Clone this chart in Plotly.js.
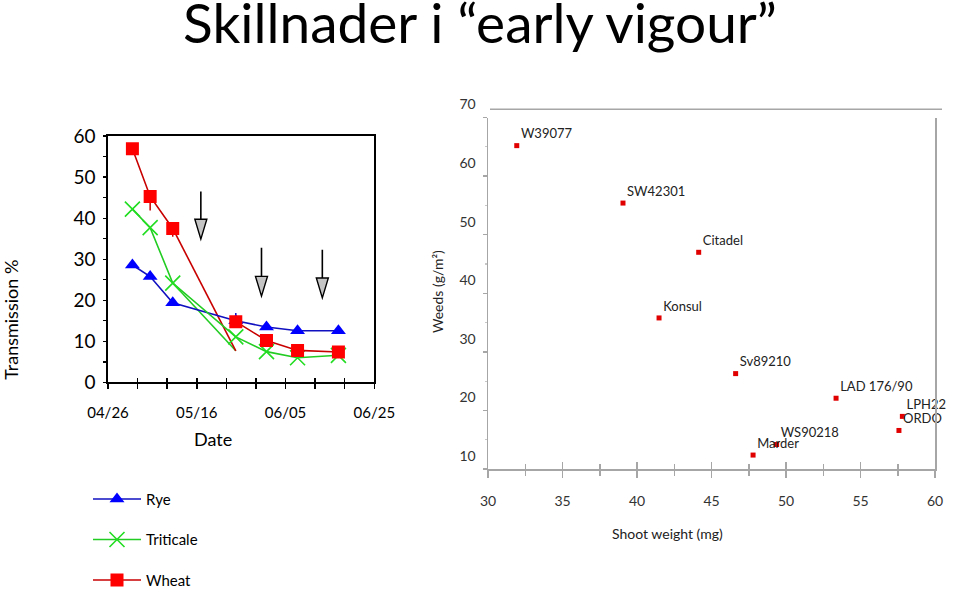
<!DOCTYPE html>
<html>
<head>
<meta charset="utf-8">
<script src="https://cdn.plot.ly/plotly-3.0.1.min.js"></script>
<style>html,body{margin:0;padding:0;background:#fff;}#chart{width:960px;height:597px;}</style>
</head>
<body>
<div id="chart"></div>
<script>
// ---------- Left chart: transmission over time ----------
const dates = ['2024-05-01 12:00','2024-05-05 12:00','2024-05-10 14:00','2024-05-24 19:00','2024-05-31 17:00','2024-06-07 17:00','2024-06-16 22:00'];
const rye       = [28.6, 25.8, 19.4, 15.0, 13.5, 12.6, 12.6];
const triticale = [42.2, 37.7, 24.2, 11.1, 7.5, 6.0, 6.6];
const wheat     = [56.9, 45.3, 37.5, 14.8, 10.2, 7.8, 7.4];
// stray line segments drawn in the original: from the 3rd date down to this value at the 4th date
const dropValue = 7.7;
// short error stubs visible in the original
const wheatErrMinus = [0, 3.4, 2.0, 0, 0, 0, 0];
const ryeErrPlus    = [0, 0, 0, 1.9, 0, 0, 0];
const xTickVals = ['2024-04-26','2024-05-16','2024-06-05','2024-06-25'];
const xTickText = ['04/26','05/16','06/05','06/25'];
// arrows (annotations) : date, top value, tip value
const arrowDates = ['2024-05-16 22:00','2024-05-30 14:00','2024-06-13 07:00'];
const arrowTop   = [46.5, 32.8, 32.3];
const arrowTip   = [34.9, 21.0, 20.6];

// ---------- Right chart: weeds vs shoot weight ----------
const cultivars   = ['W39077','SW42301','Citadel','Konsul','Sv89210','LAD 176/90','LPH22','ORDO','WS90218','Marder'];
const shootWeight = [31.93, 39.06, 44.14, 41.48, 46.62, 53.36, 57.81, 57.58, 49.37, 47.79];
const weeds       = [65.2, 55.4, 47.0, 35.8, 26.3, 22.1, 19.0, 16.6, 14.2, 12.4];

const W = 960, H = 597;
const px = x => x / W;
const py = y => 1 - y / H;
const FONT = 'Lato, "Open Sans", sans-serif';

const RED_L = '#c80000', RED_M = '#ff0000';
const BLUE_L = '#1010c0', BLUE_M = '#0000ff';
const GRN_L = '#22cc22', GRN_M = '#22dd22';

// wheat: gap between 3rd and 4th point (line replaced by stray drop)
const wx = dates.slice(0,3).concat([null]).concat(dates.slice(3));
const wy = wheat.slice(0,3).concat([null]).concat(wheat.slice(3));
const we = wheatErrMinus.slice(0,3).concat([0]).concat(wheatErrMinus.slice(3));

const traces = [
  {x:[dates[2], dates[3]], y:[triticale[2], dropValue], mode:'lines', line:{color:GRN_L, width:1.6}, showlegend:false, hoverinfo:'skip', xaxis:'x', yaxis:'y'},
  {x:[dates[2], dates[3]], y:[wheat[2], dropValue], mode:'lines', line:{color:RED_L, width:1.6}, showlegend:false, hoverinfo:'skip', xaxis:'x', yaxis:'y'},
  {name:'Rye', legendgroup:'r', x:dates, y:rye, mode:'lines+markers', xaxis:'x', yaxis:'y',
   line:{color:BLUE_L, width:1.6}, marker:{symbol:'triangle-up', size:13, color:BLUE_M},
   error_y:{type:'data', symmetric:false, array:ryeErrPlus, arrayminus:rye.map(()=>0), width:0, thickness:1.5, color:BLUE_L}},
  {name:'Triticale', legendgroup:'t', x:dates, y:triticale, mode:'lines+markers', xaxis:'x', yaxis:'y',
   line:{color:GRN_L, width:1.6}, marker:{symbol:'x-thin', size:15, color:GRN_M, line:{color:GRN_M, width:1.6}}},
  {name:'Wheat', legendgroup:'w', x:wx, y:wy, mode:'lines+markers', connectgaps:false, xaxis:'x', yaxis:'y',
   line:{color:RED_L, width:1.6}, marker:{symbol:'square', size:13, color:RED_M},
   error_y:{type:'data', symmetric:false, array:we.map(()=>0), arrayminus:we, width:0, thickness:1.5, color:RED_L}},
  {x:shootWeight, y:weeds, text:cultivars, mode:'markers+text', textposition:'top right', xaxis:'x2', yaxis:'y2',
   marker:{symbol:'square', size:5, color:'#e00000'}, textfont:{family:FONT, size:13, color:'#222'}, showlegend:false, cliponaxis:false},
  {x:[], y:[], xaxis:'x3', yaxis:'y', showlegend:false},
  {x:[], y:[], xaxis:'x4', yaxis:'y2', showlegend:false}
];

const shapes = [];
const headPx = 20 / (248/60);
for (let i = 0; i < arrowDates.length; i++) {
  const base = arrowTip[i] + headPx;
  shapes.push({type:'line', xref:'x', yref:'y', x0:arrowDates[i], x1:arrowDates[i], y0:arrowTop[i], y1:base, line:{color:'#000', width:1.6}});
  shapes.push({type:'path', xref:'x', yref:'y', xsizemode:'pixel', xanchor:arrowDates[i],
    path:'M -6,' + base + ' L 6,' + base + ' L 0,' + arrowTip[i] + ' Z',
    fillcolor:'#c4c4c4', line:{color:'#000', width:1.4}});
}
shapes.push({type:'line', xref:'paper', yref:'paper', x0:px(490), x1:px(942), y0:py(110), y1:py(110), line:{color:'#a6a6a6', width:1.5}});

const leftX = [px(108), px(374.3)];
const leftY = [py(385), py(137)];
const rightX = [px(488), px(935)];
const rightY = [py(472.3), py(118.3)];

const layout = {
  width: W, height: H,
  margin: {l:0, r:0, t:0, b:0},
  paper_bgcolor:'#fff', plot_bgcolor:'rgba(0,0,0,0)',
  font: {family: FONT, color:'#000'},
  title: {text:'Skillnader i “early vigour”', x:0.5, xanchor:'center', y: py(24), yanchor:'middle',
          font:{family:FONT, size:55, color:'#000', weight:400}},
  showlegend: true,
  legend: {x: px(88), y: py(486), xanchor:'left', yanchor:'top', tracegroupgap: 18, itemwidth: 48,
           font:{family:FONT, size:15, color:'#000'}, bgcolor:'rgba(0,0,0,0)'},
  xaxis: {domain:leftX, anchor:'y', type:'date', range:['2024-04-26','2024-06-25'],
          tickvals:xTickVals, ticktext:xTickText, ticks:'outside', ticklen:5, tickwidth:1.5, tickcolor:'#000',
          minor:{tick0:'2024-04-26', dtick:576000000, ticks:'outside', ticklen:5, tickwidth:1.5, tickcolor:'#000'},
          showline:true, linecolor:'#000', linewidth:1.6, mirror:true, showgrid:false, zeroline:false,
          tickfont:{family:FONT, size:15, color:'#000'}, ticklabelstandoff:11},
  xaxis3: {domain:leftX, anchor:'y', overlaying:'x', matches:'x', type:'date', range:['2024-04-26','2024-06-25'],
          tickvals:xTickVals, ticks:'inside', ticklen:4, tickwidth:1.5, tickcolor:'#000', showticklabels:false,
          minor:{tick0:'2024-04-26', dtick:576000000, ticks:'inside', ticklen:4, tickwidth:1.5, tickcolor:'#000'},
          showline:false, showgrid:false, zeroline:false},
  yaxis: {domain:leftY, anchor:'x', range:[0,60], dtick:10, ticks:'outside', ticklen:3, tickwidth:1.3, tickcolor:'#000',
          minor:{dtick:5, ticks:'outside', ticklen:3, tickwidth:1.3, tickcolor:'#000'},
          showline:true, linecolor:'#000', linewidth:1.6, mirror:true, showgrid:false, zeroline:false,
          tickfont:{family:FONT, size:19, color:'#000'}, ticklabelstandoff:4},
  xaxis2: {domain:rightX, anchor:'y2', range:[30,60], dtick:5, ticks:'outside', ticklen:7, tickwidth:1.5, tickcolor:'#a6a6a6',
          minor:{dtick:2.5, ticks:'outside', ticklen:5, tickwidth:1.5, tickcolor:'#a6a6a6'},
          showline:true, linecolor:'#a6a6a6', linewidth:1.5, showgrid:false, zeroline:false,
          tickfont:{family:FONT, size:14, color:'#333'}, ticklabelstandoff:12},
  xaxis4: {domain:rightX, anchor:'y2', overlaying:'x2', matches:'x2', range:[30,60], dtick:5, ticks:'inside', ticklen:7, tickwidth:1.5, tickcolor:'#a6a6a6',
          minor:{dtick:2.5, ticks:'inside', ticklen:5, tickwidth:1.5, tickcolor:'#a6a6a6'},
          showticklabels:false, showline:false, showgrid:false, zeroline:false},
  yaxis2: {domain:rightY, anchor:'x2', range:[10,70], dtick:10, ticks:'outside', ticklen:4, tickwidth:1.5, tickcolor:'#a6a6a6',
          minor:{dtick:5, ticks:'outside', ticklen:2, tickwidth:1.2, tickcolor:'#c8c8c8'},
          showline:true, linecolor:'#a6a6a6', linewidth:1.5, mirror:true, showgrid:false, zeroline:false,
          tickfont:{family:FONT, size:14, color:'#333'}, ticklabelshift:-13, ticklabelstandoff:4},
  shapes: shapes,
  annotations: [
    {text:'Transmission %', xref:'paper', yref:'paper', x:px(11), y:py(322), textangle:-90, showarrow:false,
     xanchor:'center', yanchor:'middle', font:{family:FONT, size:18, color:'#000'}},
    {text:'Date', xref:'paper', yref:'paper', x:px(213), y:py(442), showarrow:false,
     xanchor:'center', yanchor:'middle', font:{family:FONT, size:18, color:'#000'}},
    {text:'Weeds (g/m²)', xref:'paper', yref:'paper', x:px(437), y:py(294), textangle:-90, showarrow:false,
     xanchor:'center', yanchor:'middle', font:{family:FONT, size:14, color:'#222'}},
    {text:'Shoot weight (mg)', xref:'paper', yref:'paper', x:px(667), y:py(537), showarrow:false,
     xanchor:'center', yanchor:'middle', font:{family:FONT, size:14, color:'#222'}}
  ]
};

Plotly.newPlot('chart', traces, layout, {staticPlot:true, displayModeBar:false});
</script>
</body>
</html>
